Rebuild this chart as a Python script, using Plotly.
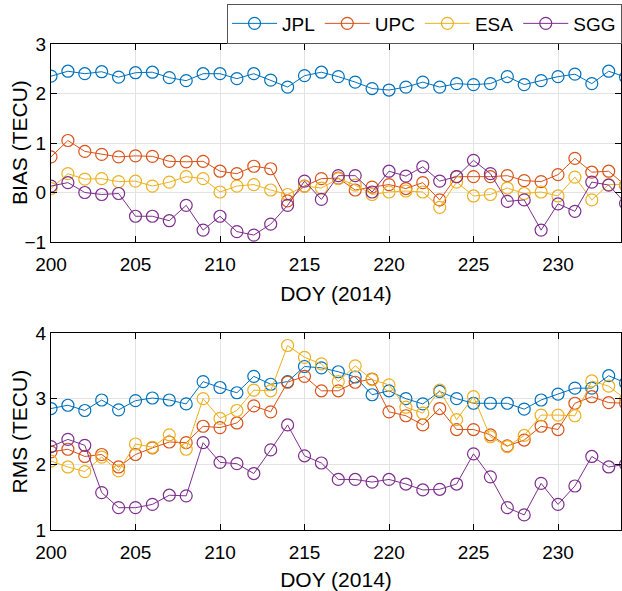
import plotly.graph_objects as go

doy = list(range(200, 235))

bias_jpl = [2.35, 2.45, 2.40, 2.44, 2.33, 2.42, 2.43, 2.32, 2.26, 2.40, 2.40, 2.30, 2.40, 2.27, 2.13, 2.36, 2.43,
            2.34, 2.23, 2.10, 2.07, 2.13, 2.23, 2.13, 2.20, 2.18, 2.20, 2.34, 2.18, 2.26, 2.34, 2.39, 2.20, 2.45, 2.33]
bias_upc = [0.72, 1.05, 0.83, 0.77, 0.72, 0.74, 0.73, 0.63, 0.62, 0.63, 0.43, 0.38, 0.53, 0.48, -0.17, 0.13, 0.28,
            0.29, 0.05, 0.11, 0.16, 0.08, 0.20, -0.15, 0.32, 0.32, 0.32, 0.34, 0.24, 0.22, 0.36, 0.69, 0.41, 0.43, 0.14]
bias_esa = [0.08, 0.38, 0.27, 0.28, 0.22, 0.23, 0.13, 0.21, 0.32, 0.28, 0.01, 0.13, 0.16, 0.05, -0.04, 0.13, 0.09,
            0.28, 0.15, -0.04, 0.01, 0.03, 0.01, -0.30, 0.21, -0.07, -0.04, 0.09, -0.02, 0.01, -0.07, 0.31, -0.15, 0.16, 0.16]
bias_sgg = [0.13, 0.20, 0.00, -0.04, -0.02, -0.48, -0.48, -0.57, -0.26, -0.76, -0.48, -0.79, -0.86, -0.64, -0.26, 0.23, -0.14,
            0.34, 0.34, 0.01, 0.43, 0.33, 0.52, 0.23, 0.32, 0.65, 0.38, -0.18, -0.15, -0.76, -0.23, -0.38, 0.21, 0.15, -0.22]

rms_jpl = [2.85, 2.90, 2.82, 2.98, 2.83, 2.97, 3.01, 2.98, 2.92, 3.26, 3.17, 3.09, 3.34, 3.22, 3.26, 3.49, 3.47,
           3.41, 3.33, 3.06, 3.12, 3.00, 2.92, 3.11, 3.00, 2.93, 2.93, 2.93, 2.84, 2.98, 3.07, 3.16, 3.16, 3.35, 3.24]
rms_upc = [2.19, 2.23, 2.12, 2.15, 1.96, 2.15, 2.25, 2.34, 2.33, 2.58, 2.56, 2.63, 2.89, 2.80, 3.25, 3.34, 3.12,
           3.12, 3.25, 3.30, 2.80, 2.74, 2.60, 2.85, 2.53, 2.53, 2.45, 2.28, 2.37, 2.58, 2.53, 2.93, 3.03, 2.94, 2.93]
rms_esa = [2.05, 1.96, 1.89, 2.11, 1.90, 2.31, 2.26, 2.45, 2.23, 3.00, 2.70, 2.82, 3.13, 3.12, 3.81, 3.63, 3.53,
           3.26, 3.50, 3.29, 3.21, 2.87, 2.78, 3.13, 2.68, 3.03, 2.42, 2.27, 2.44, 2.75, 2.75, 2.74, 3.27, 3.19, 2.99]
rms_sgg = [2.27, 2.38, 2.29, 1.57, 1.34, 1.34, 1.39, 1.53, 1.52, 2.33, 2.03, 2.01, 1.86, 2.22, 2.60, 2.13, 2.02,
           1.77, 1.77, 1.73, 1.77, 1.70, 1.61, 1.62, 1.70, 2.16, 1.81, 1.34, 1.23, 1.71, 1.39, 1.67, 2.12, 1.96, 2.00]

names = ["JPL", "UPC", "ESA", "SGG"]
colors = ["#0072BD", "#D95319", "#EDB120", "#7E2F8E"]
bias = [bias_jpl, bias_upc, bias_esa, bias_sgg]
rms = [rms_jpl, rms_upc, rms_esa, rms_sgg]

fig = go.Figure()
for n, c, b in zip(names, colors, bias):
    fig.add_trace(go.Scatter(x=doy, y=b, name=n, mode="lines+markers",
                             line=dict(color=c, width=1),
                             marker=dict(symbol="circle-open", size=12, color=c, line=dict(width=1.2)),
                             xaxis="x", yaxis="y", legendgroup=n))
for n, c, r in zip(names, colors, rms):
    fig.add_trace(go.Scatter(x=doy, y=r, name=n, mode="lines+markers", showlegend=False,
                             line=dict(color=c, width=1),
                             marker=dict(symbol="circle-open", size=12, color=c, line=dict(width=1.2)),
                             xaxis="x2", yaxis="y2", legendgroup=n))

font = "Liberation Sans, Arial, sans-serif"
xr = [200, 200 + 570 / 16.9]
axcommon = dict(showline=True, linecolor="black", linewidth=1, mirror="ticks", ticks="inside",
                ticklen=6, tickcolor="black", showgrid=True, gridcolor="#e3e3e3", gridwidth=1,
                zeroline=False, tickfont=dict(size=19, color="black", family=font))

top_dom = [0.5926, 1]
bot_dom = [0, 0.4053]

fig.update_layout(
    width=622, height=591,
    margin=dict(l=51, r=1, t=44, b=61, autoexpand=False),
    paper_bgcolor="white", plot_bgcolor="white",
    font=dict(family=font, color="black"),
    xaxis=dict(**axcommon, range=xr, dtick=5, tick0=200, domain=[0, 1], anchor="y",
               ticklabelstandoff=5,
               title=dict(text="DOY (2014)", font=dict(size=21), standoff=12)),
    yaxis=dict(**axcommon, range=[-1, 3], dtick=1, domain=top_dom, anchor="x"),
    xaxis2=dict(**axcommon, range=xr, dtick=5, tick0=200, domain=[0, 1], anchor="y2",
                ticklabelstandoff=5,
                title=dict(text="DOY (2014)", font=dict(size=21), standoff=10)),
    yaxis2=dict(**axcommon, range=[1, 4], dtick=1, domain=bot_dom, anchor="x2"),
    legend=dict(orientation="h", x=1.0018, xanchor="right",
                y=1.001, yanchor="bottom", bordercolor="#555555", borderwidth=1,
                bgcolor="white", font=dict(size=19, family=font, color="black"),
                itemwidth=45, tracegroupgap=0),
)

ytitle_x = -(51 - 20) / 570
for txt, dom in [("BIAS (TECU)", top_dom), ("RMS (TECU)", bot_dom)]:
    fig.add_annotation(text=txt, xref="paper", yref="paper", x=ytitle_x, y=(dom[0] + dom[1]) / 2,
                       xanchor="center", yanchor="middle", textangle=-90, showarrow=False,
                       font=dict(size=21, family=font, color="black"))

fig.write_html("out.html")
